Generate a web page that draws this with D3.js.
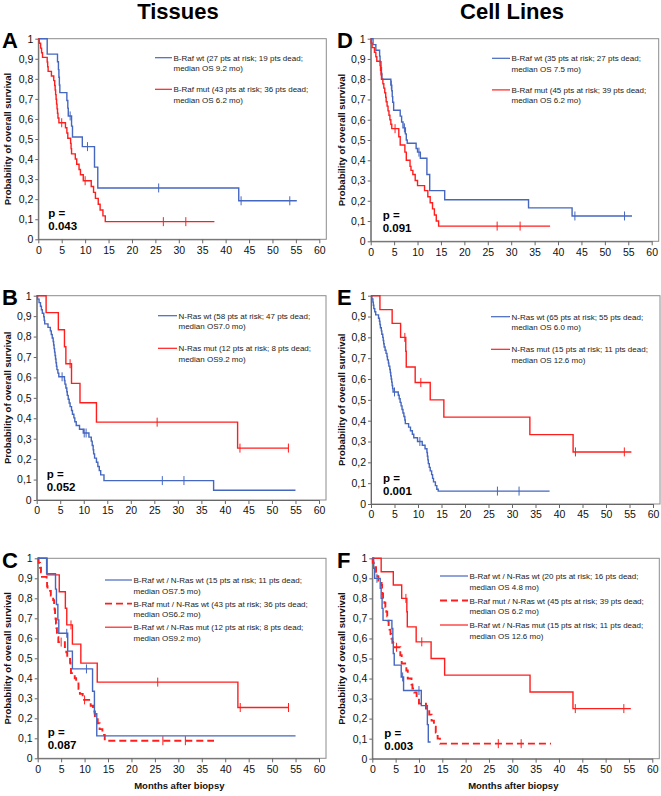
<!DOCTYPE html>
<html><head><meta charset="utf-8">
<script src="https://cdn.jsdelivr.net/npm/d3@7"></script>
<style>body{margin:0;background:#fff}svg{display:block}text{font-family:"Liberation Sans",Arial,Helvetica,sans-serif}</style>
</head><body><svg id="c" width="661" height="796"></svg>
<script>
// ---------------- DATA ----------------
const xTicks = [0,5,10,15,20,25,30,35,40,45,50,55,60];
const yTicks = [0,0.1,0.2,0.3,0.4,0.5,0.6,0.7,0.8,0.9,1];
const yTickLabels = ["0","0,1","0,2","0,3","0,4","0,5","0,6","0,7","0,8","0,9","1"];
const columnTitles = ["Tissues","Cell Lines"];
const panelLetters = ["A","B","C","D","E","F"];
const pValues = ["0.043","0.052","0.087","0.091","0.001","0.003"];
const xAxisTitle = "Months after biopsy";
const yAxisTitle = "Probability of overall survival";

// Tissues: B-Raf wt (27 pts)  [time, survival after event]
const tisBRafWt = [[1.9,0.923],[4.1,0.885],[4.3,0.846],[4.4,0.808],[4.5,0.769],[4.6,0.731],[6.1,0.692],[6.3,0.654],[6.4,0.615],[7.1,0.564],[7.3,0.51],[9.4,0.462],[12.0,0.36],[12.7,0.256],[42.8,0.192]];
const tisBRafWtCens = [[6.8,0.615],[10.5,0.462],[25.7,0.256],[43.3,0.192],[53.7,0.192]];
const tisBRafWtEnd = 55.2;

// Tissues: B-Raf mut (43 pts) = B-Raf mut / N-Ras wt
const tisBRafMut = [[0.2,0.977],[0.5,0.953],[0.7,0.93],[0.9,0.907],[1.9,0.884],[2.0,0.86],[2.1,0.837],[2.8,0.814],[3.3,0.791],[3.5,0.767],[3.6,0.744],[3.7,0.721],[3.8,0.698],[3.9,0.674],[4.0,0.651],[4.1,0.628],[4.2,0.605],[4.4,0.581],[5.8,0.556],[6.1,0.53],[6.3,0.504],[6.9,0.478],[7.0,0.452],[7.1,0.426],[7.9,0.40],[8.2,0.374],[8.7,0.348],[9.0,0.322],[9.6,0.292],[11.3,0.263],[11.8,0.234],[12.2,0.204],[12.8,0.175],[13.2,0.146],[13.8,0.117],[14.3,0.088]];
const tisBRafMutCens = [[5.0,0.581],[10.0,0.292],[26.7,0.088],[31.5,0.088]];
const tisBRafMutEnd = 37.6;

// Tissues: N-Ras wt (58 pts)
const tisNRasWt = [[0.2,0.983],[0.5,0.966],[0.8,0.948],[1.0,0.931],[1.2,0.914],[1.5,0.897],[1.6,0.879],[1.7,0.862],[2.4,0.845],[2.9,0.828],[3.1,0.81],[3.3,0.793],[3.5,0.776],[3.6,0.759],[3.7,0.741],[3.8,0.724],[3.9,0.707],[4.0,0.69],[4.1,0.672],[4.2,0.655],[4.3,0.638],[4.5,0.621],[4.7,0.603],[5.9,0.585],[6.0,0.567],[6.2,0.548],[6.4,0.53],[6.5,0.512],[6.7,0.493],[6.9,0.475],[7.1,0.457],[7.4,0.438],[7.6,0.42],[7.9,0.402],[8.1,0.383],[8.4,0.365],[9.1,0.346],[9.9,0.328],[11.1,0.308],[11.6,0.288],[11.8,0.267],[12.0,0.246],[12.1,0.226],[12.3,0.205],[12.7,0.185],[13.0,0.164],[13.3,0.144],[13.6,0.123],[14.3,0.095],[37.6,0.048]];
const tisNRasWtCens = [[5.4,0.603],[10.1,0.328],[10.5,0.328],[26.7,0.095],[31.3,0.095]];
const tisNRasWtEnd = 55.0;

// Tissues: N-Ras mut (12 pts) = B-Raf wt / N-Ras mut
const tisNRasMut = [[2.0,0.917],[4.6,0.833],[5.9,0.75],[6.2,0.667],[7.4,0.571],[9.2,0.476],[12.7,0.381],[42.7,0.254]];
const tisNRasMutCens = [[7.1,0.667],[25.6,0.381],[43.2,0.254],[53.5,0.254]];
const tisNRasMutEnd = 53.6;

// Tissues: B-Raf wt / N-Ras wt (15 pts)
const tisBothWt = [[1.9,0.923],[3.8,0.846],[4.0,0.769],[4.3,0.692],[4.5,0.625],[6.4,0.536],[7.4,0.447],[11.7,0.335],[12.1,0.223],[12.6,0.112]];
const tisBothWtCens = [[6.2,0.625],[10.4,0.447]];
const tisBothWtEnd = 55.0;

// Cell lines: B-Raf wt (35 pts)
const celBRafWt = [[0.5,0.971],[1.1,0.943],[1.9,0.914],[2.0,0.886],[2.2,0.857],[2.3,0.829],[2.4,0.80],[4.3,0.771],[4.5,0.743],[4.6,0.714],[4.7,0.686],[4.9,0.647],[6.3,0.618],[6.6,0.589],[6.9,0.56],[7.4,0.53],[7.6,0.50],[7.8,0.484],[9.7,0.458],[10.0,0.44],[10.6,0.41],[12.0,0.33],[12.6,0.25],[15.8,0.205],[33.7,0.165],[43.0,0.125]];
const celBRafWtCens = [[4.4,0.771],[7.2,0.56],[10.3,0.44],[43.6,0.125],[54.2,0.125]];
const celBRafWtEnd = 55.8;

// Cell lines: B-Raf mut (45 pts) = B-Raf mut / N-Ras wt
const celBRafMut = [[0.1,0.978],[0.3,0.956],[0.8,0.933],[1.1,0.911],[1.3,0.889],[2.0,0.867],[2.1,0.844],[2.2,0.822],[2.3,0.80],[2.6,0.778],[2.8,0.756],[3.0,0.733],[3.2,0.711],[3.3,0.689],[3.5,0.667],[3.7,0.644],[3.9,0.622],[4.1,0.60],[4.3,0.578],[4.5,0.556],[6.0,0.516],[6.3,0.475],[7.3,0.44],[7.6,0.40],[8.4,0.37],[8.6,0.35],[9.0,0.33],[9.5,0.30],[10.0,0.275],[11.5,0.25],[12.2,0.22],[12.7,0.19],[13.2,0.16],[13.6,0.13],[14.0,0.10],[14.5,0.075]];
const celBRafMutCens = [[5.2,0.556],[27.0,0.075],[31.9,0.075]];
const celBRafMutEnd = 38.3;

// Cell lines: N-Ras wt (65 pts)
const celNRasWt = [[0.2,0.985],[0.4,0.969],[0.5,0.954],[0.6,0.938],[0.8,0.923],[1.0,0.908],[1.6,0.892],[1.8,0.877],[1.9,0.862],[2.0,0.846],[2.2,0.831],[2.3,0.815],[2.5,0.8],[2.6,0.785],[2.7,0.769],[2.8,0.754],[3.0,0.738],[3.2,0.723],[3.4,0.708],[3.5,0.692],[3.7,0.677],[3.8,0.662],[4.0,0.646],[4.1,0.631],[4.2,0.615],[4.3,0.6],[4.4,0.585],[4.5,0.569],[4.6,0.554],[4.7,0.538],[5.8,0.522],[6.0,0.505],[6.2,0.488],[6.4,0.471],[6.6,0.454],[6.8,0.437],[7.0,0.42],[7.2,0.403],[7.3,0.386],[8.0,0.369],[8.4,0.352],[8.8,0.335],[9.1,0.318],[9.9,0.30],[10.9,0.282],[11.5,0.265],[11.9,0.247],[12.0,0.229],[12.1,0.212],[12.2,0.194],[12.4,0.176],[12.6,0.159],[12.9,0.141],[13.1,0.123],[13.3,0.106],[13.7,0.088],[14.0,0.071],[14.3,0.062]];
const celNRasWtCens = [[5.0,0.538],[10.4,0.30],[26.9,0.062],[31.5,0.062]];
const celNRasWtEnd = 38.0;

// Cell lines: N-Ras mut (15 pts) = B-Raf wt / N-Ras mut
const celNRasMut = [[1.9,0.933],[4.5,0.867],[6.3,0.80],[7.4,0.733],[7.5,0.658],[9.4,0.583],[12.6,0.50],[15.5,0.417],[33.8,0.333],[43.0,0.25]];
const celNRasMutCens = [[7.2,0.80],[10.6,0.583],[43.5,0.25],[53.9,0.25]];
const celNRasMutEnd = 55.4;

// Cell lines: B-Raf wt / N-Ras wt (20 pts)
const celBothWt = [[0.3,0.95],[0.5,0.90],[1.7,0.85],[1.9,0.80],[2.1,0.75],[2.3,0.69],[4.2,0.65],[4.4,0.584],[4.5,0.525],[4.7,0.467],[6.2,0.408],[6.7,0.34],[10.5,0.265],[11.8,0.17],[12.0,0.083]];
const celBothWtCens = [[1.0,0.90],[6.5,0.408],[10.0,0.34]];
const celBothWtEnd = 12.5;

// legend texts
const legA = [["B-Raf wt (27 pts at risk; 19 pts dead;","median OS 9.2 mo)"],["B-Raf mut (43 pts at risk; 36 pts dead;","median OS 6.2 mo)"]];
const legB = [["N-Ras wt (58 pts at risk; 47 pts dead;","median OS7.0 mo)"],["N-Ras mut (12 pts at risk; 8 pts dead;","median OS9.2 mo)"]];
const legC = [["B-Raf wt / N-Ras wt (15 pts at risk; 11 pts dead;","median OS7.5 mo)"],["B-Raf mut / N-Ras wt (43 pts at risk; 36 pts dead;","median OS6.2 mo)"],["B-Raf wt / N-Ras mut (12 pts at risk; 8 pts dead;","median OS9.2 mo)"]];
const legD = [["B-Raf wt (35 pts at risk; 27 pts dead;","median OS 7.5 mo)"],["B-Raf mut (45 pts at risk; 39 pts dead;","median OS 6.2 mo)"]];
const legE = [["N-Ras wt (65 pts at risk; 55 pts dead;","median OS 6.0 mo)"],["N-Ras mut (15 pts at risk; 11 pts dead;","median OS 12.6 mo)"]];
const legF = [["B-Raf wt / N-Ras wt (20 pts at risk; 16 pts dead;","median OS 4.8 mo)"],["B-Raf mut / N-Ras wt (45 pts at risk; 39 pts dead;","median OS 6.2 mo)"],["B-Raf wt / N-Ras mut (15 pts at risk; 11 pts dead;","median OS 12.6 mo)"]];

// ---------------- STYLE / LAYOUT ----------------
const BLUE = "#4567c0", RED = "#ff1e1e";
const S = (ev, cens, end, color, dashed) => ({ev, cens, end, color, dashed});

const panels = [
 {L:0, x0:38.3, x60:319.3, yTop:38.7, yBot:239.3, lx:[155,172], ly:57.7, lgap:31.6, leg:legA,
  series:[S(tisBRafWt,tisBRafWtCens,tisBRafWtEnd,BLUE,false), S(tisBRafMut,tisBRafMutCens,tisBRafMutEnd,RED,false)], legColors:[[BLUE,false],[RED,false]]},
 {L:1, x0:36.7, x60:319.0, yTop:295.7, yBot:500, lx:[158,177], ly:315.7, lgap:32.6, leg:legB,
  series:[S(tisNRasWt,tisNRasWtCens,tisNRasWtEnd,BLUE,false), S(tisNRasMut,tisNRasMutCens,tisNRasMutEnd,RED,false)], legColors:[[BLUE,false],[RED,false]]},
 {L:2, x0:37.7, x60:319.0, yTop:558.3, yBot:758.3, lx:[105,132], ly:580, lgap:23.6, leg:legC, xTitle:true,
  series:[S(tisNRasMut,tisNRasMutCens,tisNRasMutEnd,RED,false), S(tisBRafMut,tisBRafMutCens,tisBRafMutEnd,RED,true), S(tisBothWt,tisBothWtCens,tisBothWtEnd,BLUE,false)], legColors:[[BLUE,false],[RED,true],[RED,false]]},
 {L:3, x0:370.7, x60:651.7, yTop:38.7, yBot:241.3, lx:[492,510], ly:58.3, lgap:31.6, leg:legD,
  series:[S(celBRafWt,celBRafWtCens,celBRafWtEnd,BLUE,false), S(celBRafMut,celBRafMutCens,celBRafMutEnd,RED,false)], legColors:[[BLUE,false],[RED,false]]},
 {L:4, x0:371, x60:653, yTop:295.7, yBot:504, lx:[491,510], ly:316.7, lgap:32.6, leg:legE,
  series:[S(celNRasWt,celNRasWtCens,celNRasWtEnd,BLUE,false), S(celNRasMut,celNRasMutCens,celNRasMutEnd,RED,false)], legColors:[[BLUE,false],[RED,false]]},
 {L:5, x0:372.3, x60:652.3, yTop:558.3, yBot:758.7, lx:[440,468], ly:576, lgap:24.5, leg:legF, xTitle:true,
  series:[S(celNRasMut,celNRasMutCens,celNRasMutEnd,RED,false), S(celBRafMut,celBRafMutCens,celBRafMutEnd,RED,true), S(celBothWt,celBothWtCens,celBothWtEnd,BLUE,false)], legColors:[[BLUE,false],[RED,true],[RED,false]]}
];

const svg = d3.select("#c");
svg.append("rect").attr("width",661).attr("height",796).attr("fill","#fff");

// column titles
[[178,columnTitles[0]],[512,columnTitles[1]]].forEach(([cx,t])=>{
  svg.append("text").attr("x",cx).attr("y",19).attr("text-anchor","middle")
    .attr("font-size",22).attr("font-weight","bold").attr("fill","#000").text(t);
});

panels.forEach(p=>{
  const g = svg.append("g");
  const x = d3.scaleLinear().domain([0,60]).range([p.x0,p.x60]);
  const y = d3.scaleLinear().domain([0,1]).range([p.yBot,p.yTop]);
  const right = p.x60 + 7;

  // plot frame
  g.append("rect").attr("x",p.x0).attr("y",p.yTop).attr("width",right-p.x0).attr("height",p.yBot-p.yTop)
    .attr("fill","none").attr("stroke","#8c8c8c").attr("stroke-width",1);

  // axes
  const ax = g.append("g").attr("transform",`translate(0,${p.yBot})`)
    .call(d3.axisBottom(x).tickValues(xTicks).tickSize(4).tickSizeOuter(0).tickPadding(3));
  ax.select(".domain").attr("stroke","#666");
  ax.selectAll(".tick line").attr("stroke","#666");
  ax.selectAll("text").attr("font-size",10.5).attr("fill","#111").attr("font-family","Liberation Sans, Arial, sans-serif");

  const ay = g.append("g").attr("transform",`translate(${p.x0},0)`)
    .call(d3.axisLeft(y).tickValues(yTicks).tickFormat((d,i)=>yTickLabels[i]).tickSize(3).tickSizeOuter(0).tickPadding(2));
  ay.select(".domain").attr("stroke","#666");
  ay.selectAll(".tick line").attr("stroke","#666");
  ay.selectAll("text").attr("font-size",10.5).attr("fill","#111").attr("font-family","Liberation Sans, Arial, sans-serif");

  // y axis title
  const col = p.L < 3 ? 0 : 1;
  const yx = col===0 ? 10.5 : 345;
  g.append("text").attr("transform",`translate(${yx},${(p.yTop+p.yBot)/2}) rotate(-90)`)
    .attr("text-anchor","middle").attr("font-size",9.5).attr("font-weight","bold").attr("fill","#111").text(yAxisTitle);

  // panel letter
  g.append("text").attr("x", col===0 ? 2 : 337).attr("y", p.yTop + 9.5)
    .attr("font-size",22).attr("font-weight","bold").attr("fill","#000").text(panelLetters[p.L]);

  // curves
  const line = d3.line().x(d=>x(d[0])).y(d=>y(d[1])).curve(d3.curveStepAfter);
  p.series.forEach(s=>{
    const pts = [[0,1]].concat(s.ev);
    pts.push([s.end, s.ev[s.ev.length-1][1]]);
    g.append("path").attr("d",line(pts)).attr("fill","none").attr("stroke",s.color)
      .attr("stroke-width", s.dashed?1.9:1.4).attr("stroke-dasharray", s.dashed?"7,4":null);
    g.selectAll(null).data(s.cens).enter().append("line")
      .attr("x1",d=>x(d[0])).attr("x2",d=>x(d[0]))
      .attr("y1",d=>y(d[1])-4.5).attr("y2",d=>y(d[1])+4.5)
      .attr("stroke",s.color).attr("stroke-width",1);
  });

  // legend
  p.leg.forEach((lines,i)=>{
    const ly = p.ly + i*p.lgap;
    const [c,dash] = p.legColors[i];
    g.append("line").attr("x1",p.lx[0]).attr("x2",p.lx[1]).attr("y1",ly).attr("y2",ly)
      .attr("stroke",c).attr("stroke-width",dash?1.9:1.2).attr("stroke-dasharray",dash?"7,4":null);
    lines.forEach((t,j)=>{
      g.append("text").attr("x",p.lx[1]+1.5).attr("y",ly+3+j*10.5)
        .attr("font-size",8).attr("fill","#222").text(t);
    });
  });

  // p value
  const px = col===0 ? p.x0+10 : p.x0+12;
  g.append("text").attr("x",px).attr("y",p.yBot-22).attr("font-size",11.5).attr("font-weight","bold").attr("fill","#000").text("p =");
  g.append("text").attr("x",px).attr("y",p.yBot-9).attr("font-size",11.5).attr("font-weight","bold").attr("fill","#000").text(pValues[p.L]);

  // x axis title
  if (p.xTitle) {
    g.append("text").attr("x",(p.x0+p.x60)/2 + 1).attr("y",789).attr("text-anchor","middle")
      .attr("font-size",9.5).attr("font-weight","bold").attr("fill","#111").text(xAxisTitle);
  }
});
</script></body></html>
